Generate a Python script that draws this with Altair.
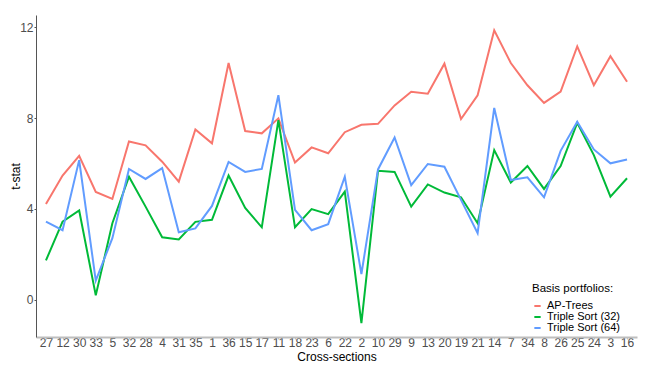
import altair as alt
import pandas as pd

sections = ["27","12","30","33","5","32","28","4","31","35","1","36","15","17","11","18","23","6",
            "22","2","10","29","9","13","20","19","21","14","7","34","8","26","25","24","3","16"]
ap_trees = [4.22,5.47,6.34,4.75,4.44,6.97,6.80,6.08,5.20,7.50,6.89,10.43,7.43,7.33,7.99,6.04,6.71,6.45,
            7.38,7.71,7.75,8.56,9.16,9.08,10.40,7.96,9.01,11.87,10.43,9.45,8.67,9.17,11.16,9.45,10.73,9.60]
ts32 = [1.73,3.44,3.93,0.19,3.37,5.42,4.10,2.75,2.65,3.43,3.52,5.47,4.04,3.19,7.91,3.19,3.99,3.77,
        4.76,-1.03,5.68,5.63,4.10,5.08,4.72,4.51,3.37,6.59,5.16,5.89,4.88,5.89,7.79,6.37,4.54,5.35]
ts64 = [3.44,3.06,6.15,0.84,2.71,5.76,5.32,5.80,2.97,3.14,4.13,6.07,5.63,5.76,9.01,3.96,3.06,3.33,
        5.42,1.13,5.74,7.15,5.05,5.98,5.86,4.40,2.93,8.45,5.27,5.39,4.51,6.56,7.84,6.62,6.01,6.18]
series = ["AP-Trees", "Triple Sort (32)", "Triple Sort (64)"]
colors = ["#F8766D", "#00BA38", "#619CFF"]
y_ticks = [0, 4, 8, 12]

rows = []
for name, vals in zip(series, [ap_trees, ts32, ts64]):
    for s, v in zip(sections, vals):
        rows.append({"section": s, "tstat": v, "portfolio": name})
df = pd.DataFrame(rows)

chart = alt.Chart(df).mark_line(strokeWidth=2).encode(
    x=alt.X("section:N", sort=sections, title="Cross-sections",
            scale=alt.Scale(type="point", padding=0.6),
            axis=alt.Axis(labelAngle=0, labelFontSize=12, labelColor="#4D4D4D",
                          labelFont="Liberation Sans", titleFont="Liberation Sans",
                          titleFontSize=12, titleFontWeight="normal", titleColor="#000000",
                          domainColor="#BEBEBE", domainWidth=2, ticks=True, tickSize=2,
                          tickColor="#BEBEBE", labelPadding=-2,
                          titlePadding=3, grid=False)),
    y=alt.Y("tstat:Q", title="t-stat",
            scale=alt.Scale(domain=[-1.645, 12.545], nice=False, zero=False),
            axis=alt.Axis(values=y_ticks, labelFontSize=12, labelColor="#4D4D4D",
                          labelFont="Liberation Sans", titleFont="Liberation Sans",
                          titleFontSize=12, titleFontWeight="normal", titleColor="#000000",
                          domainColor="#555555", domainWidth=1, tickColor="#555555",
                          tickSize=2, labelPadding=1, titlePadding=-3, grid=False)),
    color=alt.Color("portfolio:N", sort=series,
                    scale=alt.Scale(domain=series, range=colors),
                    legend=alt.Legend(title="Basis portfolios:", orient="none",
                                      legendX=496, legendY=268,
                                      titleFont="Liberation Sans", titleFontSize=11.5,
                                      titleFontWeight="normal", titleColor="#000000",
                                      labelFont="Liberation Sans", labelFontSize=11,
                                      labelColor="#000000", symbolType="stroke",
                                      symbolSize=40, symbolStrokeWidth=2,
                                      rowPadding=-5, titlePadding=6, labelOffset=4)),
).properties(
    width=601, height=322,
    padding={"left": 36, "top": 15, "right": 18, "bottom": 34},
    autosize=alt.AutoSizeParams(type="none"),
).configure_view(stroke=None)

chart.save("out.html", embed_options={"renderer": "svg", "actions": False})
